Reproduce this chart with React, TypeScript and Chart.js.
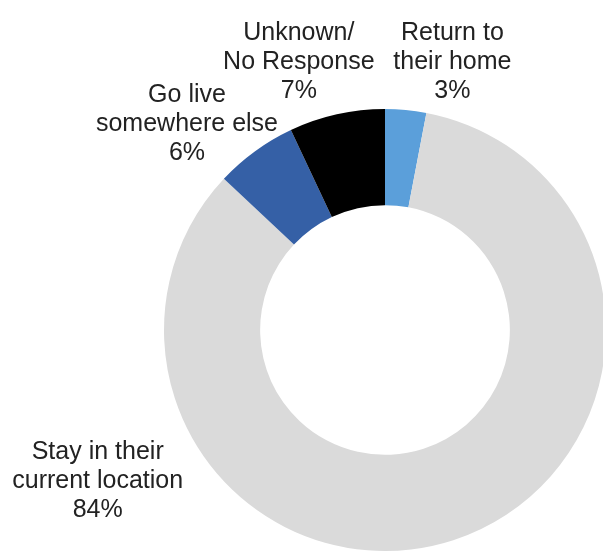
import React, { useEffect, useRef } from "react";
import { Chart, registerables } from "chart.js";

Chart.register(...registerables);

const categories = ["Return to their home", "Stay in their current location", "Go live somewhere else", "Unknown/No Response"];
const values = [3, 84, 6, 7];
const labelLines = [
  ["Return to", "their home"],
  ["Stay in their", "current location"],
  ["Go live", "somewhere else"],
  ["Unknown/", "No Response"],
];
const colors = ["#5B9FDA", "#DADADA", "#3560A6", "#000000"];
// label block centres, relative to the ring centre, in units of the outer radius
const labelAnchors = [
  [0.305, -1.212],
  [-1.3, 0.685],
  [-0.896, -0.93],
  [-0.39, -1.212],
];

const FONT = '25px "Liberation Sans", Helvetica, Arial, sans-serif';
const LINE_H = 29;

const labelPlugin = {
  id: "sliceLabels",
  afterDraw(chart: any) {
    const ctx = chart.ctx;
    const meta = chart.getDatasetMeta(0);
    ctx.save();
    ctx.font = FONT;
    ctx.fillStyle = "#222222";
    ctx.textAlign = "center";
    ctx.textBaseline = "middle";
    meta.data.forEach((arc: any, i: number) => {
      const r = arc.outerRadius;
      const cx = arc.x + labelAnchors[i][0] * r;
      const cy = arc.y + labelAnchors[i][1] * r;
      const lines = [...labelLines[i], values[i] + "%"];
      const top = cy - ((lines.length - 1) * LINE_H) / 2;
      lines.forEach((t, k) => ctx.fillText(t, cx, top + k * LINE_H));
    });
    ctx.restore();
  },
};

export default function App() {
  const ref = useRef<HTMLCanvasElement>(null);
  useEffect(() => {
    if (!ref.current) return;
    const chart = new Chart(ref.current, {
      type: "doughnut",
      data: {
        labels: categories,
        datasets: [
          {
            data: values,
            backgroundColor: colors,
            borderWidth: 0,
          },
        ],
      },
      options: {
        responsive: false,
        animation: false,
        cutout: "56.5%",
        layout: { padding: { left: 164, top: 109, right: 34, bottom: 49 } },
        plugins: {
          legend: { display: false },
          tooltip: { enabled: false },
        },
      },
      plugins: [labelPlugin],
    });
    return () => chart.destroy();
  }, []);
  return (
    <div
      style={{
        position: "fixed",
        left: 0,
        top: 0,
        width: 603,
        height: 553,
        overflow: "hidden",
        background: "#fff",
      }}
    >
      <canvas ref={ref} width={640} height={600} style={{ display: "block" }} />
    </div>
  );
}
